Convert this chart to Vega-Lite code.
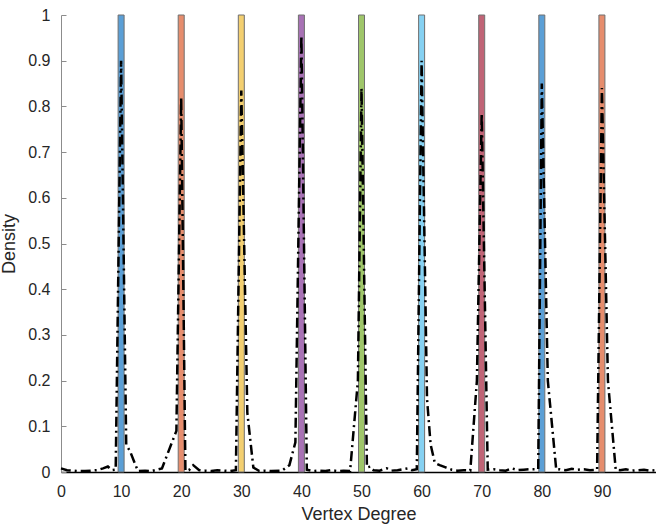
{
  "$schema": "https://vega.github.io/schema/vega-lite/v6.json",
  "width": 595,
  "height": 457,
  "autosize": {"type": "none"},
  "padding": {"left": 61, "top": 15, "right": 0, "bottom": 54},
  "background": "white",
  "config": {
    "view": {"stroke": null},
    "axis": {"grid": false, "labelFont": "Liberation Sans", "titleFont": "Liberation Sans", "labelColor": "#262626", "titleColor": "#262626", "titleFontWeight": "normal", "domainColor": "#8c8c8c", "tickColor": "#8c8c8c", "labelFontSize": 16, "titleFontSize": 18, "labelFlush": false}
  },
  "datasets": {
    "bars": [
      {"deg": 10, "lo": 9.5, "hi": 10.5, "p": 1, "g": "a"},
      {"deg": 20, "lo": 19.5, "hi": 20.5, "p": 1, "g": "b"},
      {"deg": 30, "lo": 29.5, "hi": 30.5, "p": 1, "g": "c"},
      {"deg": 40, "lo": 39.5, "hi": 40.5, "p": 1, "g": "d"},
      {"deg": 50, "lo": 49.5, "hi": 50.5, "p": 1, "g": "e"},
      {"deg": 60, "lo": 59.5, "hi": 60.5, "p": 1, "g": "f"},
      {"deg": 70, "lo": 69.5, "hi": 70.5, "p": 1, "g": "h"},
      {"deg": 80, "lo": 79.5, "hi": 80.5, "p": 1, "g": "a2"},
      {"deg": 90, "lo": 89.5, "hi": 90.5, "p": 1, "g": "b2"}
    ],
    "dens": [
      {"x": 0, "d": 0.008}, {"x": 1, "d": 0.004}, {"x": 2, "d": 0.003}, {"x": 3, "d": 0.002},
      {"x": 4, "d": 0.002}, {"x": 5, "d": 0.003}, {"x": 6, "d": 0.004}, {"x": 7, "d": 0.008},
      {"x": 7.8, "d": 0.012}, {"x": 8.5, "d": 0.004}, {"x": 9.1, "d": 0.005}, {"x": 10, "d": 0.9},
      {"x": 10.85, "d": 0.06}, {"x": 11.5, "d": 0.045}, {"x": 12.8, "d": 0.002}, {"x": 14, "d": 0.003},
      {"x": 15, "d": 0.002}, {"x": 16.8, "d": 0.008}, {"x": 19.2, "d": 0.09}, {"x": 20, "d": 0.82},
      {"x": 20.7, "d": 0.003}, {"x": 21.3, "d": 0.004}, {"x": 22, "d": 0.015}, {"x": 23, "d": 0.004},
      {"x": 24, "d": 0.003}, {"x": 25, "d": 0.002}, {"x": 26, "d": 0.004}, {"x": 27, "d": 0.003},
      {"x": 28, "d": 0.002}, {"x": 29.1, "d": 0.004}, {"x": 30, "d": 0.835}, {"x": 31, "d": 0.13},
      {"x": 32, "d": 0.01}, {"x": 33, "d": 0.002}, {"x": 34, "d": 0.003}, {"x": 35, "d": 0.002},
      {"x": 36.8, "d": 0.003}, {"x": 38, "d": 0.015}, {"x": 39, "d": 0.065}, {"x": 40, "d": 0.955},
      {"x": 40.9, "d": 0.005}, {"x": 42, "d": 0.002}, {"x": 43, "d": 0.003}, {"x": 44, "d": 0.002},
      {"x": 45, "d": 0.004}, {"x": 46, "d": 0.002}, {"x": 47, "d": 0.003}, {"x": 48.1, "d": 0.002},
      {"x": 49.4, "d": 0.2}, {"x": 50, "d": 0.84}, {"x": 50.9, "d": 0.01}, {"x": 51.5, "d": 0.012},
      {"x": 52, "d": 0.004}, {"x": 53, "d": 0.003}, {"x": 54.2, "d": 0.008}, {"x": 55, "d": 0.003},
      {"x": 56, "d": 0.004}, {"x": 57.7, "d": 0.008}, {"x": 58.4, "d": 0.004}, {"x": 59.2, "d": 0.006},
      {"x": 60, "d": 0.9}, {"x": 60.9, "d": 0.16}, {"x": 61.5, "d": 0.06}, {"x": 62.2, "d": 0.02},
      {"x": 63, "d": 0.015}, {"x": 64, "d": 0.01}, {"x": 65, "d": 0.005}, {"x": 66, "d": 0.003},
      {"x": 67, "d": 0.004}, {"x": 68.1, "d": 0.003}, {"x": 69.2, "d": 0.2}, {"x": 70, "d": 0.785},
      {"x": 71, "d": 0.005}, {"x": 72, "d": 0.006}, {"x": 73, "d": 0.004}, {"x": 74, "d": 0.003},
      {"x": 75, "d": 0.008}, {"x": 76, "d": 0.004}, {"x": 77, "d": 0.005}, {"x": 78, "d": 0.006},
      {"x": 79.4, "d": 0.006}, {"x": 80, "d": 0.85}, {"x": 81, "d": 0.2}, {"x": 82.4, "d": 0.005},
      {"x": 83, "d": 0.006}, {"x": 84, "d": 0.004}, {"x": 85, "d": 0.007}, {"x": 86, "d": 0.005},
      {"x": 87, "d": 0.006}, {"x": 88, "d": 0.004}, {"x": 89.2, "d": 0.005}, {"x": 90, "d": 0.84},
      {"x": 91, "d": 0.2}, {"x": 92.3, "d": 0.005}, {"x": 93, "d": 0.004}, {"x": 94, "d": 0.006},
      {"x": 95, "d": 0.003}, {"x": 96, "d": 0.004}, {"x": 97, "d": 0.005}, {"x": 98, "d": 0.003},
      {"x": 99, "d": 0.004}
    ]
  },
  "layer": [
    {
      "data": {"name": "bars"},
      "mark": {"type": "rect", "stroke": "#707070", "strokeWidth": 1},
      "encoding": {
        "x": {"field": "lo", "type": "quantitative", "scale": {"domain": [0, 99], "nice": false, "zero": false},
          "axis": {"title": "Vertex Degree", "values": [0,10,20,30,40,50,60,70,80,90], "tickSize": -5, "labelPadding": 16, "titlePadding": 6, "domainColor": "#000000", "domainWidth": 1.5}},
        "x2": {"field": "hi"},
        "y": {"field": "p", "type": "quantitative", "scale": {"domain": [0, 1], "nice": false},
          "axis": {"title": "Density", "format": "~g", "values": [0,0.1,0.2,0.3,0.4,0.5,0.6,0.7,0.8,0.9,1], "tickSize": -5, "labelPadding": 16, "titlePadding": 9}},
        "y2": {"datum": 0},
        "color": {"field": "g", "type": "nominal", "legend": null,
          "scale": {"domain": ["a","b","c","d","e","f","h","a2","b2"],
            "range": ["#5b9fd6", "#e68d6d", "#f3cf70", "#a872b5", "#9fc66a", "#86d1f2", "#c06476", "#5b9fd6", "#e68d6d"]}}
      }
    },
    {
      "data": {"name": "dens"},
      "mark": {"type": "line", "color": "#000000", "strokeWidth": 2.5, "strokeDash": [10, 4, 2, 4]},
      "encoding": {
        "x": {"field": "x", "type": "quantitative"},
        "y": {"field": "d", "type": "quantitative"}
      }
    }
  ]
}
